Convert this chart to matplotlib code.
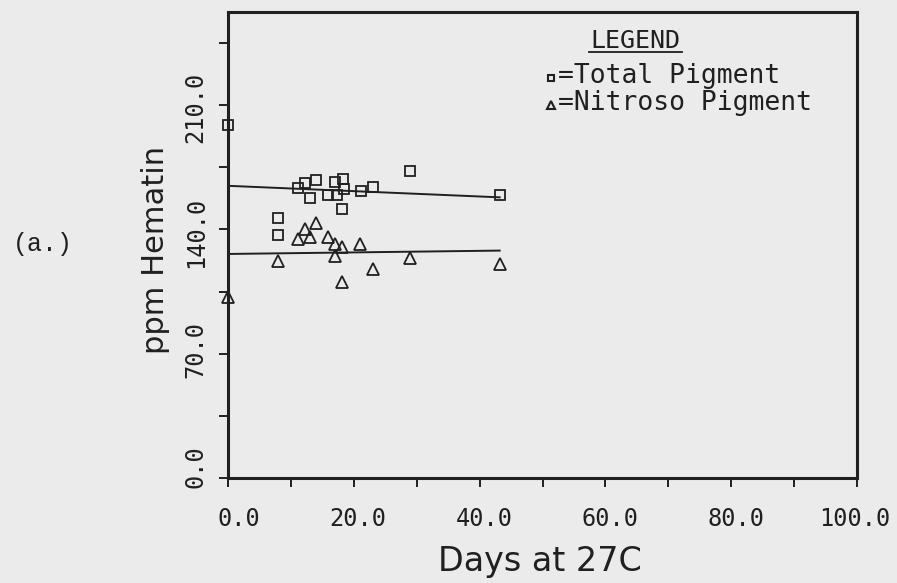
import numpy as np
import matplotlib
matplotlib.use("Agg")
import matplotlib.pyplot as plt
from matplotlib.transforms import ScaledTranslation, blended_transform_factory

# Values (days at 27C, ppm hematin)
total_days = [0, 8.0, 8.0, 11.1, 12.3, 13.0, 14.1, 16.0, 17.0, 17.3,
              18.1, 18.3, 18.4, 21.1, 23.1, 28.9, 43.2]
total_ppm = [199.0, 146.5, 137.1, 163.4, 166.0, 157.6, 168.1, 159.5, 166.9, 159.5,
             151.6, 168.5, 162.8, 161.9, 164.1, 172.7, 159.5]

nitroso_days = [0, 8.0, 11.1, 12.2, 13.1, 14.0, 16.0, 17.0, 17.1, 18.1,
                18.1, 21.0, 23.0, 28.9, 43.2]
nitroso_ppm = [101.8, 122.5, 134.7, 140.3, 135.6, 143.5, 135.6, 131.9, 125.3, 130.0,
               110.6, 131.9, 117.8, 124.0, 120.6]

# fitted lines as drawn on the original
fit_days = [0, 43.2]
total_fit = [164.6, 158.1]
nitroso_fit = [126.2, 128.1]

x_ticks = np.arange(0, 101, 10)
x_labelled = [0, 20, 40, 60, 80, 100]
y_ticks = np.arange(0, 246, 35)
y_labelled = [0, 70, 140, 210]

PAPER = "#ebebeb"
INK = "#202020"
MONO = "DejaVu Sans Mono"
W, H = 897, 583


def fig_xy(x, y):
    """pixel position in the picture -> figure fraction"""
    return x / W, 1 - y / H


fig = plt.figure(figsize=(W / 100, H / 100), dpi=100, facecolor=PAPER)
ax = fig.add_axes([227.7 / W, 1 - 478 / H, (857.3 - 227.7) / W, (478 - 12) / H])
ax.set_facecolor(PAPER)
ax.set_xlim(0, 100)
ax.set_ylim(0, 262.5)
for s in ax.spines.values():
    s.set_linewidth(2.2)
    s.set_color(INK)
ax.set_xticks(x_ticks)
ax.set_yticks(y_ticks)
ax.tick_params(direction="out", length=6.5, width=1.4, color=INK,
               labelbottom=False, labelleft=False)

# data
ax.plot(total_days, total_ppm, ls="none", marker="s", ms=7, mfc="none",
        mec=INK, mew=1.3, clip_on=False, zorder=3)
ax.plot(nitroso_days, nitroso_ppm, ls="none", marker="^", ms=8, mfc="none",
        mec=INK, mew=1.3, clip_on=False, zorder=3)
ax.plot(fit_days, total_fit, color=INK, lw=1.4)
ax.plot(fit_days, nitroso_fit, color=INK, lw=1.4)

# tick labels, plotter style (decimal points roughly lined up)
xt = blended_transform_factory(ax.transData, ax.transAxes) + \
    ScaledTranslation(0.33, -0.29, fig.dpi_scale_trans)
for v in x_labelled:
    ax.text(v, 0, f"{v:.1f}", transform=xt, ha="right", va="top",
            fontsize=17, family=MONO, color=INK)
yt = blended_transform_factory(ax.transAxes, ax.transData) + \
    ScaledTranslation(-0.20, 0.33, fig.dpi_scale_trans)
for v in y_labelled:
    ax.text(0, v, f"{v:.1f}", transform=yt, rotation=90, ha="right", va="top",
            fontsize=17, family=MONO, color=INK)

# axis labels
fig.text(*fig_xy(170, 250), "ppm Hematin", rotation=90, ha="right", va="center",
         fontsize=22, color=INK)
fig.text(*fig_xy(540, 571), "Days at 27C", ha="center", va="baseline",
         fontsize=24, color=INK)
fig.text(*fig_xy(43, 244), "(a.)", ha="center", va="center",
         fontsize=18, family="Liberation Mono", color=INK)

# legend block
fig.text(*fig_xy(635, 48.3), "LEGEND", ha="center", va="baseline",
         fontsize=18, family=MONO, color=INK)
ax.plot([589 / W, 682 / W], [1 - 51.7 / H] * 2, transform=fig.transFigure,
        color=INK, lw=1.3, clip_on=False)
ax.plot([551 / W], [1 - 78 / H], transform=fig.transFigure, ls="none",
        marker="s", ms=5, mfc="none", mec=INK, mew=1.5, clip_on=False)
ax.plot([551 / W], [1 - 105 / H], transform=fig.transFigure, ls="none",
        marker="^", ms=6, mfc="none", mec=INK, mew=1.5, clip_on=False)
fig.text(*fig_xy(558, 83.3), "=Total Pigment", ha="left", va="baseline",
         fontsize=19, family=MONO, color=INK)
fig.text(*fig_xy(558, 110), "=Nitroso Pigment", ha="left", va="baseline",
         fontsize=19, family=MONO, color=INK)

fig.savefig("out.png", dpi=100, facecolor=PAPER)
